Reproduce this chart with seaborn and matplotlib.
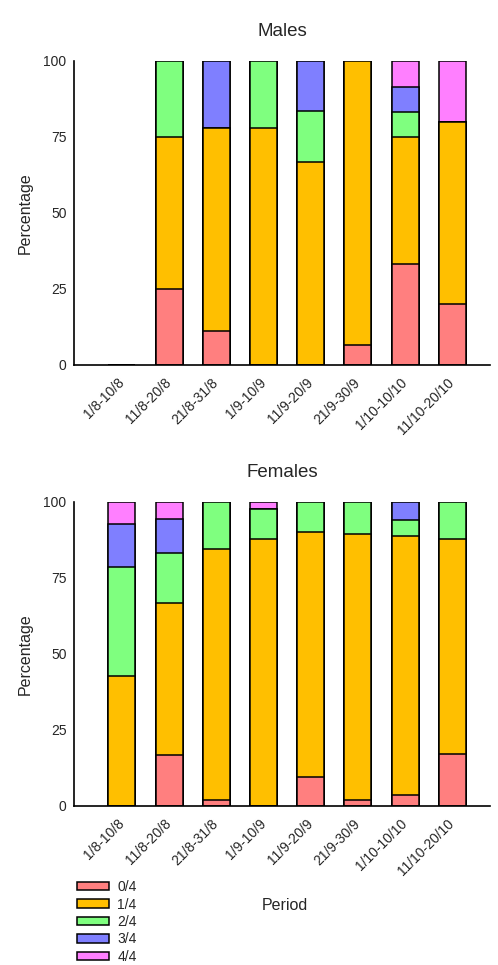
import numpy as np
import matplotlib
matplotlib.use('Agg')
import matplotlib.pyplot as plt
from matplotlib.patches import Patch
import seaborn as sns

# Periods on the x axis
periods = ['1/8-10/8', '11/8-20/8', '21/8-31/8', '1/9-10/9',
           '11/9-20/9', '21/9-30/9', '1/10-10/10', '11/10-20/10']
scores = ['0/4', '1/4', '2/4', '3/4', '4/4']

# Percentages per score, males
males_0 = [0, 25.0, 11.1, 0, 0, 6.7, 33.3, 20.0]
males_1 = [0, 50.0, 66.7, 77.8, 66.7, 93.3, 41.7, 60.0]
males_2 = [0, 25.0, 0, 22.2, 16.7, 0, 8.3, 0]
males_3 = [0, 0, 22.2, 0, 16.6, 0, 8.3, 0]
males_4 = [0, 0, 0, 0, 0, 0, 8.4, 20.0]

# Percentages per score, females
females_0 = [0, 16.7, 2.0, 0, 9.5, 1.8, 3.5, 17.1]
females_1 = [42.9, 50.0, 82.6, 87.8, 80.5, 87.8, 85.4, 70.7]
females_2 = [35.7, 16.6, 15.4, 9.8, 10.0, 10.4, 5.1, 12.2]
females_3 = [14.3, 11.1, 0, 0, 0, 0, 6.0, 0]
females_4 = [7.1, 5.6, 0, 2.4, 0, 0, 0, 0]

colors = ['#FF7F7F', '#FFBF00', '#7FFF7F', '#7F7FFF', '#FF7FFF']

sns.set_style('white')
plt.rcParams['font.family'] = ['Liberation Sans', 'DejaVu Sans']

fig = plt.figure(figsize=(4.98, 9.65), dpi=100)
ax_m = fig.add_axes([0.149, 0.6218, 0.835, 0.315])
ax_f = fig.add_axes([0.149, 0.1648, 0.835, 0.315])


def stacked(ax, layers, title):
    cum = np.cumsum(np.array(layers), axis=0)
    # draw from the top layer down so lower segments cover upper ones
    for i in range(len(layers) - 1, -1, -1):
        sns.barplot(x=periods, y=cum[i], color=colors[i], saturation=1,
                    edgecolor='black', linewidth=1.1, width=0.57,
                    errorbar=None, ax=ax)
    ax.set_xlim(-1.01, 7.8)
    ax.set_ylim(0, 100)
    ax.set_yticks([0, 25, 50, 75, 100])
    ax.set_title(title, fontsize=13.5, pad=18)
    ax.set_ylabel('Percentage', fontsize=11.5, labelpad=8)
    sns.despine(ax=ax)
    for s in ['left', 'bottom']:
        ax.spines[s].set_linewidth(1.2)
        ax.spines[s].set_color('black')
    ax.tick_params(axis='y', direction='inout', length=7, width=1.2,
                   labelsize=10, pad=2)
    ax.tick_params(axis='x', direction='out', length=5, width=1.2,
                   labelsize=10, pad=6)
    ax.set_xticks(range(len(periods)))
    ax.set_xticklabels(periods, rotation=45, ha='right', va='center',
                       rotation_mode='anchor')


stacked(ax_m, [males_0, males_1, males_2, males_3, males_4], 'Males')
stacked(ax_f, [females_0, females_1, females_2, females_3, females_4], 'Females')
ax_m.set_xlabel('')
ax_f.set_xlabel('')
fig.text(0.573, 0.062, 'Period', fontsize=11.5, ha='center', va='center')

handles = [Patch(facecolor=c, edgecolor='black', linewidth=1.1) for c in colors]
fig.legend(handles, scores, loc='upper left', bbox_to_anchor=(0.155, 0.088),
           frameon=False, fontsize=10, handlelength=2.3, handleheight=0.55,
           labelspacing=0.25, handletextpad=0.6, borderpad=0, borderaxespad=0)

fig.savefig('out.png', dpi=100)
